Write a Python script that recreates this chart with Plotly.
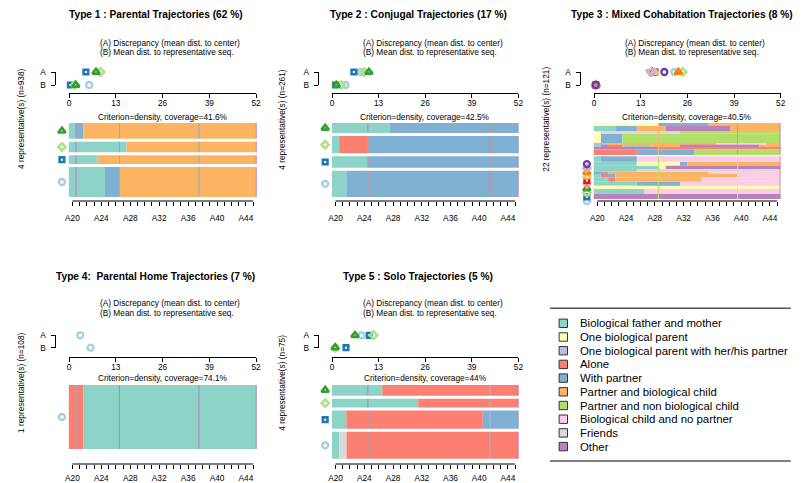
import plotly.graph_objects as go

W, H = 805, 483
FONT = "Liberation Sans, Arial, Helvetica, sans-serif"
SMALL = 8.3

# ---------------- data ----------------
STATE_CODES = ["a", "b", "c", "d", "e", "f", "g", "h", "i", "j"]
STATE_LABELS = ["Biological father and mother", "One biological parent",
                "One biological parent with her/his partner", "Alone", "With partner",
                "Partner and biological child", "Partner and non biological child",
                "Biological child and no partner", "Friends", "Other"]
STATE_COLORS = ["#8DD3C7", "#FFFFB3", "#BEBADA", "#FB8072", "#80B1D3",
                "#FDB462", "#B3DE69", "#FCCDE5", "#D9D9D9", "#BC80BD"]
AGES = ["A%d" % a for a in range(20, 46)]
AGE_TICK_LABELS = ["A20", "A24", "A28", "A32", "A36", "A40", "A44"]
DIST_TICKS = [0, 13, 26, 39, 52]
REP_COLORS = ["#A6CEE3", "#1F78B4", "#B2DF8A", "#33A02C", "#FB9A99", "#E31A1C",
              "#FDBF6F", "#FF7F00", "#CAB2D6", "#6A3D9A", "#FFFF99", "#B15928"]
SUB_A = "(A) Discrepancy (mean dist. to center)"
SUB_B = "(B) Mean dist. to representative seq."

# Type 1 (representatives listed bottom -> top, run-length coded states)
p1_title = "Type 1 : Parental Trajectories (62 %)"
p1_ylabel = "4 representative(s) (n=938)"
p1_criterion = "Criterion=density, coverage=41.6%"
p1_seqs = ["a5 e2 f19", "a4 f22", "a8 f18", "a1 e1 f24"]
p1_weights = [30, 8.7, 10.7, 15.7]
p1_A = [8.6, 4.7, 8.8, 7.5]
p1_B = [5.6, 0.4, 1.6, 1.9]

# Type 2
p2_title = "Type 2 : Conjugal Trajectories (17 %)"
p2_ylabel = "4 representative(s) (n=261)"
p2_criterion = "Criterion=density, coverage=42.5%"
p2_seqs = ["a2 e24", "a5 e21", "a1 d4 e21", "a8 e18"]
p2_weights = [26, 11.3, 17, 10]
p2_A = [8.0, 6.1, 9.0, 10.3]
p2_B = [3.8, 1.0, 2.6, 1.2]

# Type 3
p3_title = "Type 3 : Mixed Cohabitation Trajectories (8 %)"
p3_ylabel = "22 representative(s) (n=121)"
p3_criterion = "Criterion=density, coverage=40.5%"
p3_seqs = ["j26", "a7 h19", "b26", "a6 e6 h14", "a2 d1 f12 h11", "a1 d1 e1 f17 h6",
           "e2 f14 h10", "a6 i20", "a9 b1 j16", "a6 b6 e1 f13", "a1 e5 h20",
           "d6 e8 g12", "j9 d17", "a1 j1 d2 a4 f4 j11 f3", "c2 f15 h7 f2",
           "b1 e3 g22", "b1 i11 g14", "a3 e3 f4 j9 f7", "b9 e7 f10"]
p3_weights = [5, 5, 3.3, 4, 4.4, 4, 1.6, 2.7, 3.3, 4, 5.4,
              5.7, 2.3, 2.3, 1.7, 9.3, 2.7, 5, 3]
p3_A = [22.4, 17.0, 24.7, 16.3, 15.6, 16.5, 16.9, 23.5, 16.0, 19.6]
p3_B = [0.5, 0.4, 0.5, 0.6, 0.5, 0.5, 0.4, 0.5, 0.5, 0.5]

# Type 4
p4_title = "Type 4:\u00a0 Parental Home Trajectories (7 %)"
p4_ylabel = "1 representative(s) (n=108)"
p4_criterion = "Criterion=density, coverage=74.1%"
p4_seqs = ["d2 a24"]
p4_weights = [1]
p4_A = [3.1]
p4_B = [6.0]

# Type 5
p5_title = "Type 5 : Solo Trajectories (5 %)"
p5_ylabel = "4 representative(s) (n=75)"
p5_criterion = "Criterion=density, coverage=44%"
p5_seqs = ["a1 i1 d24", "a2 d19 e5", "a12 d14", "a7 d19"]
p5_weights = [27, 18.4, 9, 11]
p5_A = [8.2, 10.4, 11.6, 6.4]
p5_B = [0.9, 3.9, 0.9, 0.9]

# ---------------- layout (pixels) ----------------
ROW1 = dict(ty=15, suby=(42.7, 52.3), yA=72, yB=85, daxy=92.7, crity=116.7,
            stop=123, sbot=197, agey=201, agestand=5, yly=119)
ROW2 = dict(ty=276.7, suby=(303.3, 313.3), yA=335.3, yB=347.7, daxy=356.7, crity=377.7,
            stop=385, sbot=458.7, agey=464, agestand=2, yly=383)
COL1 = dict(dx0=69, dx1=256, brx=55, sx0=68.8, sx1=256.8, subx=98.3, ylx=21)
COL2 = dict(dx0=332, dx1=518.4, brx=318.3, sx0=332, sx1=518.7, subx=360.7, ylx=281.7)
COL3 = dict(dx0=594, dx1=780.7, brx=580, sx0=593.7, sx1=780.7, subx=622.7, ylx=545.7)
XPAD = 1.5   # columns of room left of the bars for the representative symbols
YPAD = 6.0   # px of room below the bars


def topcolor(n_bottom, bottom, top):
    return lambda i: bottom if i < n_bottom else top


PANELS = [
    dict(title=p1_title, ylabel=p1_ylabel, crit=p1_criterion, seqs=p1_seqs, w=p1_weights,
         A=p1_A, B=p1_B, tx=155.5, gap=3.0, **ROW1, **COL1,
         vlines=[(1, "#BC80BD"), (7, "#80B1D3"), (18, "#80B1D3"), (26, "#BC80BD")]),
    dict(title=p2_title, ylabel=p2_ylabel, crit=p2_criterion, seqs=p2_seqs, w=p2_weights,
         A=p2_A, B=p2_B, tx=418.3, gap=3.0, **ROW1, **COL2,
         vlines=[(5, ["#FB8072", "#FB8072", "#FB8072", "#BC80BD"]), (22, "#FB8072"), (26, "#BC80BD")]),
    dict(title=p3_title, ylabel=p3_ylabel, crit=p3_criterion, seqs=p3_seqs, w=p3_weights,
         A=p3_A, B=p3_B, tx=681.7, gap=0.0, gap_extra={10: 1.3},
         **{**ROW1, "sbot": 199}, **COL3, marker_stack=4.1,
         vlines=[(9, topcolor(11, "#B3DE69", "#FDB462")), (20, topcolor(11, "#D9D9D9", "#80B1D3")),
                 (26, "#BC80BD")]),
    dict(title=p4_title, ylabel=p4_ylabel, crit=p4_criterion, seqs=p4_seqs, w=p4_weights,
         A=p4_A, B=p4_B, tx=155.8, gap=0.0, **{**ROW2, "sbot": 449}, **COL1,
         vlines=[(1, "#80B1D3"), (7, "#BC80BD"), (18, "#BC80BD"), (26, "#BC80BD")]),
    dict(title=p5_title, ylabel=p5_ylabel, crit=p5_criterion, seqs=p5_seqs, w=p5_weights,
         A=p5_A, B=p5_B, tx=417.8, gap=3.0, **{**ROW2, "stop": 384.7, "crity": 378.3}, **COL2,
         vlines=[(5, ["#80B1D3", "#80B1D3", "#BC80BD", "#BC80BD"]), (22, "#A9B8DA"), (26, "#BC80BD")]),
]

# symbol, size, outline width  (thick outline -> filled look with small white centre)
SYM = {"circle": ("circle-open", 6.0, 2.3), "square": ("square-open", 4.6, 2.6),
       "diamond": ("diamond-open", 5.6, 2.6), "triangle-up": ("triangle-up-open", 6.4, 2.6),
       "triangle-down": ("triangle-down-open", 6.4, 2.6)}
REP_SYMBOLS = ["circle", "square", "diamond", "triangle-up", "triangle-down", "square",
               "triangle-up", "triangle-up", "diamond", "circle", "square", "diamond"]


def fx(px):
    return px / W


def fy(py):
    return 1 - py / H


def parse(code):
    out = []
    for tok in code.split():
        out.append((STATE_CODES.index(tok[0]), int(tok[1:])))
    return out


def rep_style(i):
    s, size, lw = SYM[REP_SYMBOLS[i % len(REP_SYMBOLS)]]
    return s, size, lw, REP_COLORS[i % len(REP_COLORS)]


fig = go.Figure()
layout = {}
shapes = []
annotations = []
tickfont = dict(family=FONT, size=SMALL, color="#000")

for p, P in enumerate(PANELS):
    kd, ks = 2 * p + 1, 2 * p + 2
    xd, yd = ("x%d" % kd if kd > 1 else "x"), ("y%d" % kd if kd > 1 else "y")
    xs, ys = "x%d" % ks, "y%d" % ks
    nd = "" if kd == 1 else str(kd)
    ncol = len(AGES)
    colw = (P["sx1"] - P["sx0"]) / ncol

    # --- dot plot axes
    layout["xaxis" + nd] = dict(domain=[fx(P["dx0"]), fx(P["dx1"])], range=[0, 52], anchor="free",
                                position=fy(P["daxy"]), showline=True, linecolor="#000", linewidth=1,
                                ticks="outside", ticklen=4, tickcolor="#000", tickvals=DIST_TICKS,
                                tickfont=tickfont, ticklabelstandoff=-2,
                                showgrid=False, zeroline=False, fixedrange=True)
    layout["yaxis" + nd] = dict(domain=[fy(P["yB"]), fy(P["yA"])], range=[0, 1], anchor="free",
                                position=fx(P["brx"]), showline=True, linecolor="#000", linewidth=1,
                                ticks="outside", ticklen=4.5, tickcolor="#000", tickvals=[0, 1],
                                ticktext=["B", "A"], tickfont=tickfont, ticklabelstandoff=3,
                                showgrid=False, zeroline=False, fixedrange=True)
    # --- sequence axes
    area = P["sbot"] - P["stop"]
    layout["xaxis%d" % ks] = dict(domain=[fx(P["sx0"] - XPAD * colw), fx(P["sx1"])],
                                  range=[-XPAD, ncol], anchor="free",
                                  position=fy(P["agey"]), showline=False, ticks="outside", ticklen=4,
                                  tickcolor="#000", tickvals=[i + 0.5 for i in range(ncol)],
                                  ticktext=[a if a in AGE_TICK_LABELS else "" for a in AGES],
                                  tickfont=tickfont, ticklabelstandoff=P["agestand"], showgrid=False,
                                  zeroline=False, fixedrange=True)
    layout["yaxis%d" % ks] = dict(domain=[fy(P["sbot"] + YPAD), fy(P["stop"])], range=[-YPAD, area],
                                  visible=False, fixedrange=True)
    shapes.append(dict(type="line", xref=xs, yref="paper", x0=0.5, x1=ncol - 0.5,
                       y0=fy(P["agey"]), y1=fy(P["agey"]), line=dict(color="#000", width=1)))

    # --- rows layout
    n = len(P["seqs"])
    gaps = [P["gap"]] * (n - 1)
    for k, v in P.get("gap_extra", {}).items():
        gaps[k] = v
    scale = (area - sum(gaps)) / sum(P["w"])
    bottoms, heights = [], []
    y = 0.0
    for i in range(n):
        h = P["w"][i] * scale
        bottoms.append(y)
        heights.append(h)
        y += h + (gaps[i] if i < n - 1 else 0)

    per_state = {s: ([], [], [], []) for s in range(len(STATE_CODES))}
    for i, code in enumerate(P["seqs"]):
        start = 0
        for s, ln in parse(code):
            b, xl, yc, wd = per_state[s]
            b.append(start); xl.append(ln); yc.append(bottoms[i] + heights[i] / 2); wd.append(heights[i])
            start += ln
    for s, (b, xl, yc, wd) in per_state.items():
        if not b:
            continue
        fig.add_trace(go.Bar(orientation="h", base=b, x=xl, y=yc, width=wd, xaxis=xs, yaxis=ys,
                             marker=dict(color=STATE_COLORS[s], line=dict(width=0)),
                             showlegend=False, hoverinfo="skip"))

    # vertical guide lines within each bar
    for col, col_color in P["vlines"]:
        for i in range(n):
            if callable(col_color):
                c = col_color(i)
            elif isinstance(col_color, list):
                c = col_color[i]
            else:
                c = col_color
            xx = min(col, ncol - 0.08)
            shapes.append(dict(type="line", xref=xs, yref=ys, x0=xx, x1=xx, y0=bottoms[i],
                               y1=bottoms[i] + heights[i], line=dict(color=c, width=1)))

    # --- representative markers
    nrep = len(P["A"])
    for i in range(nrep):
        s, size, lw, c = rep_style(i)
        if "marker_stack" in P:
            ym = -2 + i * P["marker_stack"]
        else:
            ym = bottoms[i] + heights[i] / 2
        mk = dict(symbol=s, size=size, color=c, line=dict(color=c, width=lw))
        fig.add_trace(go.Scatter(x=[-0.95], y=[ym], xaxis=xs, yaxis=ys, mode="markers", marker=mk,
                                 cliponaxis=False, showlegend=False, hoverinfo="skip"))
        fig.add_trace(go.Scatter(x=[P["A"][i], P["B"][i]], y=[1, 0], xaxis=xd, yaxis=yd, mode="markers",
                                 marker=mk, cliponaxis=False, showlegend=False, hoverinfo="skip"))

    # --- texts
    annotations.append(dict(text="<b>%s</b>" % P["title"], x=fx(P["tx"]), y=fy(P["ty"]), xref="paper",
                            yref="paper", xanchor="center", yanchor="middle", showarrow=False,
                            font=dict(family=FONT, size=10.2, color="#000")))
    for t, yy in zip([SUB_A, SUB_B], P["suby"]):
        annotations.append(dict(text=t, x=fx(P["subx"]), y=fy(yy), xref="paper", yref="paper",
                                xanchor="left", yanchor="middle", showarrow=False,
                                font=dict(family=FONT, size=SMALL, color="#000")))
    annotations.append(dict(text=P["crit"], x=fx((P["sx0"] + P["sx1"]) / 2), y=fy(P["crity"]),
                            xref="paper", yref="paper", xanchor="center", yanchor="middle",
                            showarrow=False, font=dict(family=FONT, size=SMALL, color="#000")))
    annotations.append(dict(text=P["ylabel"], x=fx(P["ylx"]), y=fy(P["yly"]), xref="paper",
                            yref="paper", xanchor="center", yanchor="middle", textangle=-90,
                            showarrow=False, font=dict(family=FONT, size=SMALL, color="#000")))

# ---------------- legend ----------------
LEG = dict(x_sq=563.3, x_txt=577.7, y0=323.3, dy=13.7, sq=8.4, ly=(308.3, 461), lx=(550, 790.7))
for yy in LEG["ly"]:
    shapes.append(dict(type="line", xref="paper", yref="paper", x0=fx(LEG["lx"][0]), x1=fx(LEG["lx"][1]),
                       y0=fy(yy), y1=fy(yy), line=dict(color="#555", width=1.6)))
for i, (lab, col) in enumerate(zip(STATE_LABELS, STATE_COLORS)):
    yc = LEG["y0"] + i * LEG["dy"]
    hs = LEG["sq"] / 2
    shapes.append(dict(type="rect", xref="paper", yref="paper", x0=fx(LEG["x_sq"] - hs),
                       x1=fx(LEG["x_sq"] + hs), y0=fy(yc + hs), y1=fy(yc - hs), fillcolor=col,
                       line=dict(color="#333", width=1)))
    annotations.append(dict(text=lab, x=fx(LEG["x_txt"]), y=fy(yc), xref="paper", yref="paper",
                            xanchor="left", yanchor="middle", showarrow=False,
                            font=dict(family=FONT, size=11.4, color="#000")))

fig.update_layout(width=W, height=H, margin=dict(l=0, r=0, t=0, b=0, autoexpand=False),
                  paper_bgcolor="white", plot_bgcolor="white", barmode="overlay", showlegend=False,
                  font=dict(family=FONT, size=SMALL, color="#000"),
                  shapes=shapes, annotations=annotations, **layout)
fig.write_html("out.html", config={"displayModeBar": False},
               post_script="document.body.style.margin='0';document.body.style.padding='0';")
